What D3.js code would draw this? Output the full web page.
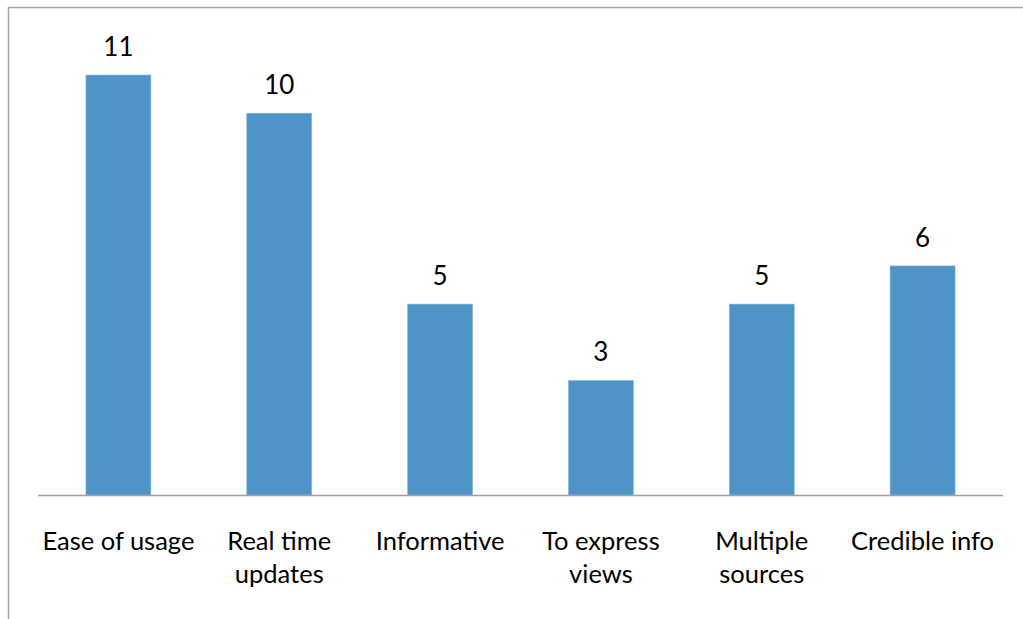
<!DOCTYPE html>
<html>
<head>
<meta charset="utf-8">
<script src="https://cdn.jsdelivr.net/npm/d3@7"></script>
<style>
  body { margin: 0; background: #fff; }
  text { font-family: Lato, "Open Sans", sans-serif; fill: #000; }
</style>
</head>
<body>
<div id="chart"></div>
<script>
var width = 1023;
var height = 619;

// chart data
var categories = [["Ease of usage"], ["Real time", "updates"], ["Informative"],
                  ["To express", "views"], ["Multiple", "sources"], ["Credible info"]];
var values = [11, 10, 5, 3, 5, 6];

var svg = d3.select("#chart")
  .append("svg")
  .attr("width", width)
  .attr("height", height);

// outer frame (only top and left edges visible in the picture)
svg.append("path")
  .attr("d", "M8.5," + height + "V7.5H" + width)
  .attr("fill", "none")
  .attr("stroke", "#a6a6a6")
  .attr("stroke-width", 1.5);

var x = d3.scaleBand()
  .domain(d3.range(values.length))
  .range([38, 1003])
  .paddingInner(0.596)
  .paddingOuter(0.298);

var y = d3.scaleLinear()
  .domain([0, 11])
  .range([495, 75]);

svg.selectAll("rect.bar")
  .data(values)
  .enter()
  .append("rect")
  .attr("class", "bar")
  .attr("x", (d, i) => x(i))
  .attr("y", d => y(d))
  .attr("width", x.bandwidth())
  .attr("height", d => y(0) - y(d))
  .attr("fill", "#4f94c9")
  .attr("stroke", "#8ab8de")
  .attr("stroke-width", 0.6);

// baseline
svg.append("line")
  .attr("x1", 38)
  .attr("x2", 1003)
  .attr("y1", y(0) + 0.5)
  .attr("y2", y(0) + 0.5)
  .attr("stroke", "#a0a0a0")
  .attr("stroke-width", 1.5);

// value labels
svg.selectAll("text.val")
  .data(values)
  .enter()
  .append("text")
  .attr("class", "val")
  .attr("x", (d, i) => x(i) + x.bandwidth() / 2)
  .attr("y", d => y(d) - 19)
  .attr("text-anchor", "middle")
  .attr("font-size", "26px")
  .text(d => d);

// category labels
var lbl = svg.selectAll("text.cat")
  .data(categories)
  .enter()
  .append("text")
  .attr("class", "cat")
  .attr("text-anchor", "middle")
  .attr("font-size", "25.5px");

lbl.selectAll("tspan")
  .data((d, i) => d.map(t => ({ t: t, i: i })))
  .enter()
  .append("tspan")
  .attr("x", d => x(d.i) + x.bandwidth() / 2)
  .attr("y", (d, j) => 550 + j * 33)
  .text(d => d.t);
</script>
</body>
</html>
